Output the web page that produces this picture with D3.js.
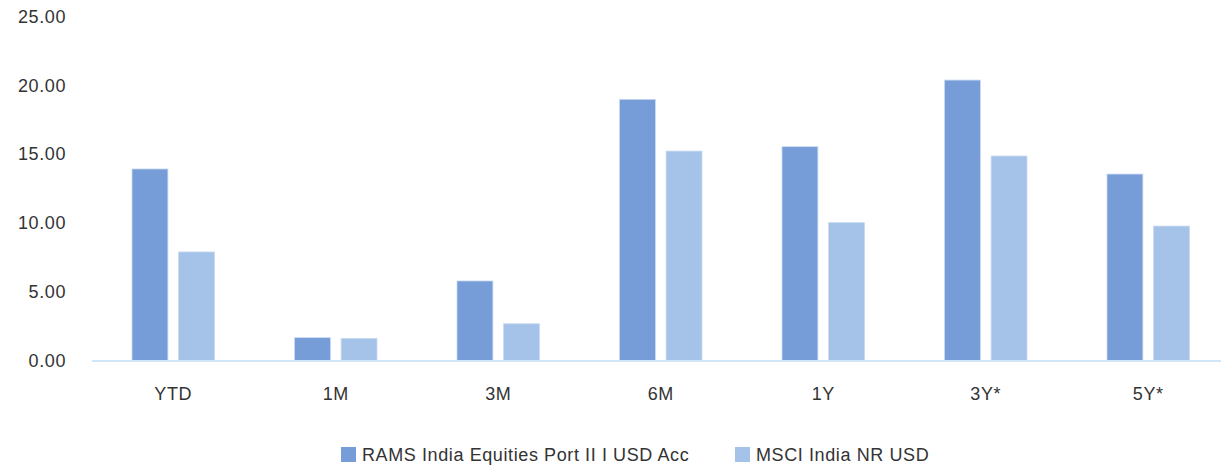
<!DOCTYPE html>
<html><head><meta charset="utf-8">
<script src="https://cdn.jsdelivr.net/npm/d3@7"></script>
<style>body{margin:0;background:#fff}svg{display:block}text{font-family:"Liberation Sans",Arial,sans-serif;fill:#333}</style>
</head><body><div id="c"></div>
<script>
const categories = ["YTD","1M","3M","6M","1Y","3Y*","5Y*"];
const seriesNames = ["RAMS India Equities Port II I USD Acc","MSCI India NR USD"];
const ramsValues = [13.92,1.66,5.78,18.98,15.54,20.38,13.55];
const msciValues = [7.89,1.61,2.67,15.22,10.02,14.86,9.77];
const yTicks = [0,5,10,15,20,25];
const colors = ["#769dd8","#a5c3e8"];

const W=1221,H=468;
const svg=d3.select("#c").append("svg").attr("width",W).attr("height",H);
const x=d3.scaleBand().domain(categories).range([92,1229.5]).paddingInner(0).paddingOuter(0);
const y=d3.scaleLinear().domain([0,25]).range([360.5,16.5]);
const x1=d3.scaleBand().domain([0,1]).range([40,x.bandwidth()-40]).paddingInner(0.23);

const data=categories.map((c,i)=>({c,v:[ramsValues[i],msciValues[i]]}));
const g=svg.append("g");
g.selectAll("g.cat").data(data).join("g").attr("transform",d=>`translate(${x(d.c)},0)`)
 .selectAll("rect").data(d=>d.v.map((v,k)=>({v,k}))).join("rect")
 .attr("x",d=>x1(d.k)).attr("width",x1.bandwidth())
 .attr("y",d=>y(d.v)).attr("height",d=>y(0)-y(d.v))
 .attr("fill",d=>colors[d.k]).attr("stroke","#c8daf2").attr("stroke-width",0.8);

// baseline
svg.append("line").attr("x1",92).attr("x2",W).attr("y1",y(0)+0.5).attr("y2",y(0)+0.5)
 .attr("stroke","#cfe6f8").attr("stroke-width",2);

// y axis labels
const ya=svg.append("g").attr("transform","translate(66,0)").call(d3.axisLeft(y).tickValues(yTicks).tickFormat(d3.format(".2f")).tickSize(0).tickPadding(0));
ya.select(".domain").remove();
ya.selectAll("text").attr("font-size",18).attr("letter-spacing",0.6).style("fill","#333").attr("font-family","Liberation Sans, Arial, sans-serif");

// x axis labels
const xa=svg.append("g").attr("transform",`translate(0,${y(0)})`).call(d3.axisBottom(x).tickSize(0).tickPadding(27));
xa.select(".domain").remove();
xa.selectAll("text").attr("font-size",18).attr("letter-spacing",0.6).style("fill","#333").attr("font-family","Liberation Sans, Arial, sans-serif");

// legend
const leg=[{n:seriesNames[0],x:341},{n:seriesNames[1],x:735}];
const lg=svg.selectAll("g.leg").data(leg).join("g").attr("transform",d=>`translate(${d.x},447)`);
lg.append("rect").attr("width",15).attr("height",15).attr("fill",(d,i)=>colors[i]);
lg.append("text").attr("x",21).attr("y",14).attr("font-size",18).attr("letter-spacing",0.6).text(d=>d.n);
</script></body></html>
